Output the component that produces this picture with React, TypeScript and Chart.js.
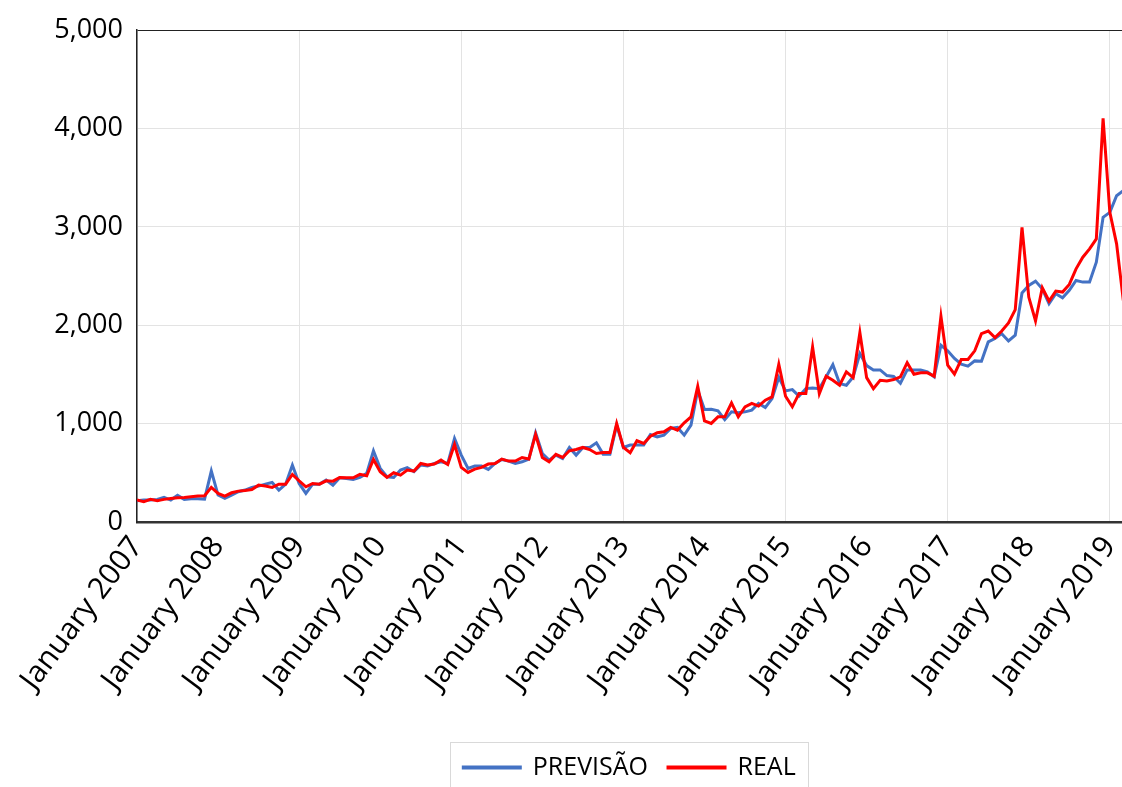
import { useEffect, useRef } from 'react';
import { Chart, registerables } from 'chart.js';

Chart.register(...registerables);

// Year labels shown every 12 months on the x axis (month index 0 = January 2007)
const yearTicks = [
  'January 2007', 'January 2008', 'January 2009', 'January 2010', 'January 2011',
  'January 2012', 'January 2013', 'January 2014', 'January 2015', 'January 2016',
  'January 2017', 'January 2018', 'January 2019',
];

// Monthly forecast, January 2007 onwards
const previsao = [
  217, 223, 223, 230, 250, 223, 271, 230, 237, 237, 233, 518,
  274, 240, 274, 308, 325, 352, 365, 385, 402, 325, 385, 579,
  392, 291, 385, 385, 426, 375, 450, 443, 433, 453, 494, 724,
  545, 460, 453, 528, 552, 511, 579, 569, 595, 612, 595, 849,
  680, 545, 569, 569, 535, 595, 636, 619, 595, 612, 640, 907,
  697, 629, 680, 646, 758, 680, 758, 758, 805, 690, 690, 985,
  758, 782, 782, 782, 890, 866, 883, 951, 961, 883, 985, 1340,
  1144, 1147, 1130, 1040, 1120, 1110, 1120, 1137, 1205, 1164, 1255, 1470,
  1333, 1346, 1279, 1356, 1363, 1356, 1475, 1600, 1407, 1390, 1475, 1712,
  1590, 1546, 1546, 1489, 1479, 1411, 1546, 1546, 1545, 1527, 1476, 1797,
  1740, 1662, 1605, 1584, 1638, 1635, 1831, 1865, 1915, 1841, 1899, 2328,
  2405, 2449, 2371, 2219, 2321, 2280, 2355, 2456, 2439, 2439, 2642, 3098,
  3148, 3317, 3368,
];

// Monthly actual values, January 2007 onwards
const real = [
  223, 207, 230, 217, 230, 240, 247, 250, 257, 264, 267, 352,
  291, 264, 297, 314, 321, 331, 375, 365, 352, 385, 385, 483,
  419, 358, 392, 385, 419, 415, 453, 450, 450, 484, 470, 636,
  511, 453, 501, 477, 528, 518, 595, 579, 589, 629, 585, 788,
  555, 504, 538, 555, 589, 595, 640, 619, 619, 656, 640, 890,
  656, 612, 687, 656, 724, 737, 758, 737, 697, 707, 707, 1002,
  758, 704, 826, 798, 873, 907, 917, 961, 934, 1008, 1069, 1380,
  1028, 1002, 1069, 1069, 1211, 1069, 1171, 1205, 1178, 1238, 1272, 1604,
  1279, 1171, 1306, 1306, 1780, 1306, 1482, 1441, 1390, 1526, 1468, 1925,
  1468, 1356, 1441, 1434, 1448, 1475, 1620, 1502, 1518, 1517, 1483, 2091,
  1595, 1503, 1652, 1652, 1740, 1915, 1942, 1875, 1942, 2024, 2159, 2996,
  2287, 2044, 2382, 2247, 2348, 2338, 2415, 2574, 2692, 2777, 2878, 4104,
  3148, 2828, 2250,
];

const BLUE = '#4472C4';
const RED = '#FF0000';
const FONT = "'Open Sans', sans-serif";
const PLOT_BOTTOM = 522;
const BOTTOM_PAD = 10;

// Centre the legend under the plot area instead of the whole canvas
const legendUnderPlot = {
  id: 'legendUnderPlot',
  afterLayout(chart: any) {
    const lg = chart.legend;
    const area = chart.chartArea;
    if (!lg || !area) return;
    lg.left = area.left;
    lg.right = area.right;
    lg.width = area.right - area.left;
  },
};

// Thin grey frame around the legend items
const legendFrame = {
  id: 'legendFrame',
  afterDraw(chart: any) {
    const boxes = chart.legend?.legendHitBoxes;
    if (!boxes || !boxes.length) return;
    const left = Math.min(...boxes.map((b: any) => b.left)) - 13;
    const right = Math.max(...boxes.map((b: any) => b.left + b.width)) + 13;
    const cy = boxes[0].top + boxes[0].height / 2;
    const ctx = chart.ctx;
    ctx.save();
    ctx.strokeStyle = '#d9d9d9';
    ctx.lineWidth = 1;
    ctx.strokeRect(Math.round(left) + 0.5, Math.round(cy - 26) + 0.5, Math.round(right - left), 52);
    ctx.restore();
  },
};

export default function App() {
  const canvasRef = useRef<HTMLCanvasElement>(null);

  useEffect(() => {
    document.body.style.margin = '0';
    const canvas = canvasRef.current;
    if (!canvas) return;

    const chart = new Chart(canvas, {
      type: 'line',
      data: {
        datasets: [
          {
            label: 'PREVISÃO',
            data: previsao.map((y, x) => ({ x, y })),
            borderColor: BLUE,
            backgroundColor: BLUE,
            borderWidth: 3,
            pointRadius: 0,
            tension: 0,
            order: 2,
          },
          {
            label: 'REAL',
            data: real.map((y, x) => ({ x, y })),
            borderColor: RED,
            backgroundColor: RED,
            borderWidth: 3,
            pointRadius: 0,
            tension: 0,
            order: 1,
          },
        ],
      },
      options: {
        responsive: false,
        animation: false,
        devicePixelRatio: 1,
        layout: { padding: { top: 29, left: 0, right: 0, bottom: BOTTOM_PAD } },
        plugins: {
          tooltip: { enabled: false },
          legend: {
            position: 'bottom',
            labels: {
              color: '#000',
              font: { family: FONT, size: 25 },
              boxWidth: 57,
              boxHeight: 1,
              padding: 20,
              sort: (a: any, b: any) => a.datasetIndex - b.datasetIndex,
            },
          },
        },
        scales: {
          x: {
            type: 'linear',
            min: 0,
            max: 145.8,
            ticks: {
              stepSize: 12,
              includeBounds: false,
              autoSkip: false,
              minRotation: 53,
              maxRotation: 53,
              padding: 8,
              color: '#000',
              font: { family: FONT, size: 30 },
              callback: (v: any) => (Number(v) % 12 === 0 ? yearTicks[Number(v) / 12] : ''),
            },
            grid: {
              drawTicks: false,
              lineWidth: 1,
              color: (ctx: any) => (ctx.tick && ctx.tick.value % 24 === 0 ? '#e3e3e3' : 'rgba(0,0,0,0)'),
            },
            border: { color: '#333', width: 2.5 },
            afterFit: (scale: any) => {
              const legendH = (scale.chart.legend && scale.chart.legend.height) || 0;
              scale.height = Math.max(0, scale.chart.height - PLOT_BOTTOM - legendH - BOTTOM_PAD);
              scale.paddingLeft = 0;
              scale.paddingRight = 0;
            },
          },
          y: {
            min: 0,
            max: 5000,
            ticks: {
              stepSize: 1000,
              padding: 14,
              color: '#000',
              font: { family: FONT, size: 27 },
              callback: (v: any) => Number(v).toLocaleString('en-US'),
            },
            grid: {
              drawTicks: false,
              lineWidth: 1,
              color: (ctx: any) => (ctx.tick && ctx.tick.value === 5000 ? '#222' : '#e3e3e3'),
            },
            border: { color: '#222', width: 1.5 },
            afterFit: (scale: any) => {
              scale.width = 137;
            },
          },
        },
      },
      plugins: [legendUnderPlot, legendFrame],
    });

    return () => chart.destroy();
  }, []);

  return (
    <div style={{ width: 1122, height: 787, overflow: 'hidden', background: '#fff' }}>
      <canvas ref={canvasRef} width={1122} height={800} style={{ display: 'block', width: 1122, height: 800 }} />
    </div>
  );
}
